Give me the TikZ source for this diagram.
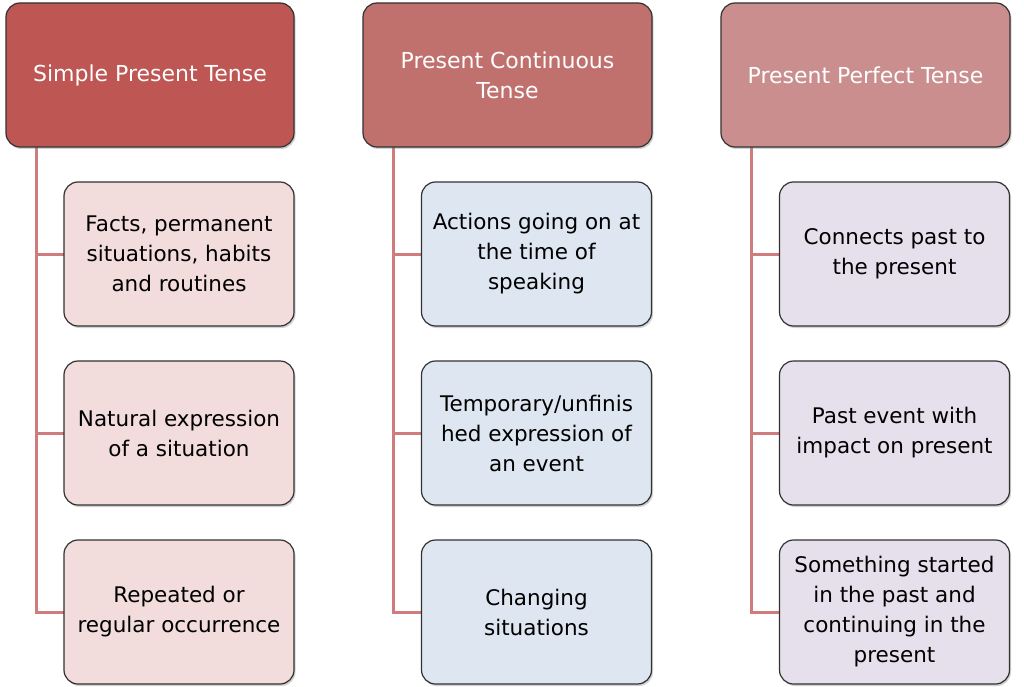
\documentclass[tikz,border=0pt]{standalone}
\usepackage{fontspec}
\setmainfont{DejaVu Sans}
\usetikzlibrary{shadows}
\definecolor{hdA}{RGB}{190,86,83}
\definecolor{hdB}{RGB}{192,113,110}
\definecolor{hdC}{RGB}{201,142,141}
\definecolor{chA}{RGB}{242,221,220}
\definecolor{chB}{RGB}{221,230,241}
\definecolor{chC}{RGB}{229,224,236}
\definecolor{connc}{RGB}{208,124,124}
\definecolor{edgec}{RGB}{50,50,50}
\tikzset{
  hdbox/.style={rectangle, rounded corners=14pt, draw=edgec, line width=1.2pt,
    minimum height=144pt, align=center, text=white,
    font=\fontsize{22}{30}\selectfont, inner sep=2pt,
    drop shadow={opacity=0.35, shadow xshift=1.5pt, shadow yshift=-2pt}},
  chbox/.style={rectangle, rounded corners=14pt, draw=edgec, line width=1.2pt,
    minimum width=230pt, minimum height=144pt, align=center, text=black,
    font=\fontsize{21.5}{30}\selectfont, inner sep=1pt,
    drop shadow={opacity=0.35, shadow xshift=1.5pt, shadow yshift=-2pt}},
  conn/.style={draw=connc, line width=3pt}
}
\begin{document}
\begin{tikzpicture}[x=1pt,y=-1pt]
\useasboundingbox[fill=white] (0,0) rectangle (1024,687);
% connectors first
\coordinate (s1) at (36,147);
\coordinate (s2) at (393,147);
\coordinate (s3) at (751,147);
\path (179,254) coordinate (p11) (179,433) coordinate (p12) (179,612) coordinate (p13);
\path (536.5,254) coordinate (p21) (536.5,433) coordinate (p22) (536.5,612) coordinate (p23);
\path (894.5,254) coordinate (p31) (894.5,433) coordinate (p32) (894.5,612) coordinate (p33);
\draw[conn] (s1) |- (p13);
\draw[conn] (s1 |- p11) -- (p11);
\draw[conn] (s1 |- p12) -- (p12);
\draw[conn] (s2) |- (p23);
\draw[conn] (s2 |- p21) -- (p21);
\draw[conn] (s2 |- p22) -- (p22);
\draw[conn] (s3) |- (p33);
\draw[conn] (s3 |- p31) -- (p31);
\draw[conn] (s3 |- p32) -- (p32);
% headers
\node[hdbox, fill=hdA, minimum width=288pt] (h1) at (150,75) {Simple Present Tense};
\node[hdbox, fill=hdB, minimum width=289pt] (h2) at (507.5,75) {Present Continuous\\Tense};
\node[hdbox, fill=hdC, minimum width=289pt] (h3) at (865.5,75) {Present Perfect Tense};
% children
\node[chbox, fill=chA] (c11) at (p11) {Facts, permanent\\situations, habits\\and routines};
\node[chbox, fill=chA] (c12) at (p12) {Natural expression\\of a situation};
\node[chbox, fill=chA] (c13) at (p13) {Repeated or\\regular occurrence};
\node[chbox, fill=chB] (c21) at (p21) {Actions going on at\\the time of\\speaking};
\node[chbox, fill=chB] (c22) at (p22) {Temporary/unfinis\\hed expression of\\an event};
\node[chbox, fill=chB] (c23) at (p23) {Changing\\situations};
\node[chbox, fill=chC] (c31) at (p31) {Connects past to\\the present};
\node[chbox, fill=chC] (c32) at (p32) {Past event with\\impact on present};
\node[chbox, fill=chC] (c33) at (p33) {Something started\\in the past and\\continuing in the\\present};
\end{tikzpicture}
\end{document}
